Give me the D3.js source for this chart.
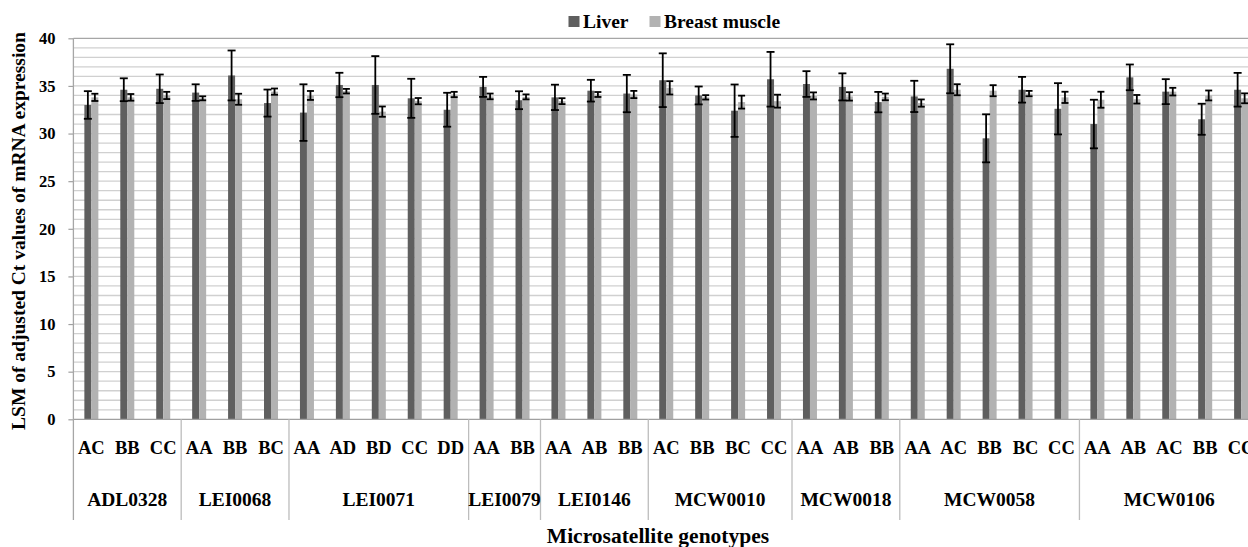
<!DOCTYPE html>
<html>
<head>
<meta charset="utf-8">
<script src="https://cdn.jsdelivr.net/npm/d3@7"></script>
<style>
  html, body { margin: 0; padding: 0; background: #fff; }
  svg { display: block; }
  text { font-family: "Liberation Serif", "Times New Roman", serif; font-weight: bold; fill: #000; }
</style>
</head>
<body>
<svg id="chart" width="1248" height="547"></svg>
<script>
// ---- data ----
const groups = ["ADL0328","LEI0068","LEI0071","LEI0079","LEI0146","MCW0010","MCW0018","MCW0058","MCW0106"];
const groupSizes = [3,3,5,2,3,4,3,5,5];
const genotypes = ["AC","BB","CC","AA","BB","BC","AA","AD","BD","CC","DD","AA","BB","AA","AB","BB",
                   "AC","BB","BC","CC","AA","AB","BB","AA","AC","BB","BC","CC","AA","AB","AC","BB","CC"];
const liver = [33.0,34.6,34.7,34.3,36.1,33.2,32.2,35.1,35.1,33.7,32.5,34.9,33.5,33.8,34.5,34.2,
               35.6,34.0,32.4,35.7,35.2,34.9,33.3,33.9,36.8,29.5,34.6,32.6,31.0,35.9,34.4,31.5,34.6];
const liverErr = [1.45,1.2,1.5,0.87,2.62,1.42,2.97,1.28,3.03,2.05,1.78,1.05,0.94,1.33,1.14,1.96,
                  2.82,0.94,2.75,2.87,1.35,1.42,1.07,1.64,2.57,2.52,1.35,2.69,2.55,1.35,1.31,1.63,1.77];
const breast = [33.8,33.8,34.0,33.7,33.6,34.4,34.0,34.45,32.3,33.4,34.1,33.9,33.85,33.4,34.1,34.1,
                34.8,33.8,33.3,33.4,33.95,33.9,33.85,33.2,34.6,34.5,34.2,33.8,33.55,33.6,34.4,34.0,33.7];
const breastErr = [0.38,0.35,0.38,0.21,0.58,0.33,0.47,0.24,0.54,0.33,0.28,0.3,0.26,0.31,0.26,0.38,
                   0.7,0.23,0.68,0.68,0.37,0.44,0.35,0.38,0.58,0.58,0.28,0.59,0.84,0.45,0.4,0.52,0.52];
const seriesNames = ["Liver","Breast muscle"];
const yTicks = [0,5,10,15,20,25,30,35,40];

// ---- layout ----
const svg = d3.select("#chart");
const plotLeft = 73.4, plotTop = 38.3, plotBottom = 419.3, catW = 35.93;
const n = genotypes.length;
const x = d3.scaleBand().domain(d3.range(n)).range([plotLeft, plotLeft + n * catW]).padding(0);
const y = d3.scaleLinear().domain([0, 40]).range([plotBottom, plotTop]);
const colors = ["#5f5f5f", "#b2b2b2"];
const barW = 7;

// gridlines (every 1 unit)
svg.append("g").selectAll("line").data(d3.range(1, 40)).join("line")
  .attr("x1", plotLeft).attr("x2", 1248)
  .attr("y1", d => y(d)).attr("y2", d => y(d))
  .attr("stroke", "#d0d0d0").attr("stroke-width", 1.3);
// top line
svg.append("line").attr("x1", plotLeft).attr("x2", 1248).attr("y1", y(40)).attr("y2", y(40))
  .attr("stroke", "#a6a6a6").attr("stroke-width", 1.3);

// y axis
const yAxis = d3.axisLeft(y).tickValues(yTicks).tickSize(5).tickPadding(13).tickFormat(d3.format("d"));
const ya = svg.append("g").attr("transform", `translate(${plotLeft},0)`).call(yAxis);
ya.select(".domain").remove();
ya.selectAll(".tick line").attr("stroke", "#a0a0a0").attr("stroke-width", 1.2);
ya.selectAll(".tick text").style("font-size", "16.5px").style("font-family", "'Liberation Serif', serif")
  .style("font-weight", "bold").attr("fill", "#000");

// bars
const gBars = svg.append("g");
gBars.selectAll("rect.liver").data(liver).join("rect").attr("class", "liver")
  .attr("x", (d, i) => x(i) + x.bandwidth() / 2 - barW)
  .attr("width", barW).attr("y", d => y(d)).attr("height", d => y(0) - y(d))
  .attr("fill", colors[0]);
gBars.selectAll("rect.breast").data(breast).join("rect").attr("class", "breast")
  .attr("x", (d, i) => x(i) + x.bandwidth() / 2)
  .attr("width", barW).attr("y", d => y(d)).attr("height", d => y(0) - y(d))
  .attr("fill", colors[1]);

// error bars
function errBars(vals, errs, offset, capW) {
  const g = svg.append("g").attr("stroke", "#000").attr("stroke-width", 1.8);
  vals.forEach((v, i) => {
    const cx = x(i) + x.bandwidth() / 2 + offset;
    const y1 = y(v + errs[i]), y2 = y(v - errs[i]);
    g.append("line").attr("x1", cx).attr("x2", cx).attr("y1", y1).attr("y2", y2);
    g.append("line").attr("x1", cx - capW / 2).attr("x2", cx + capW / 2).attr("y1", y1).attr("y2", y1);
    g.append("line").attr("x1", cx - capW / 2).attr("x2", cx + capW / 2).attr("y1", y2).attr("y2", y2);
  });
}
errBars(liver, liverErr, -barW / 2, 8);
errBars(breast, breastErr, barW / 2, 7);

// x axis line
svg.append("line").attr("x1", plotLeft).attr("x2", 1248).attr("y1", plotBottom).attr("y2", plotBottom)
  .attr("stroke", "#a0a0a0").attr("stroke-width", 1.3);
// vertical axis line + group separators
let starts = [0];
groupSizes.forEach((s, i) => starts.push(starts[i] + s));
svg.append("line").attr("x1", plotLeft).attr("x2", plotLeft).attr("y1", plotTop).attr("y2", 520)
  .attr("stroke", "#a6a6a6").attr("stroke-width", 1.3);
svg.append("g").selectAll("line").data(starts.slice(1, -1)).join("line")
  .attr("x1", d => x(d)).attr("x2", d => x(d)).attr("y1", plotBottom).attr("y2", 520)
  .attr("stroke", "#bdbdbd").attr("stroke-width", 1.3);

// genotype labels
svg.append("g").selectAll("text").data(genotypes).join("text")
  .attr("x", (d, i) => x(i) + x.bandwidth() / 2).attr("y", 454)
  .attr("text-anchor", "middle").style("font-size", "18.5px").text(d => d);

// group labels
svg.append("g").selectAll("text").data(groups).join("text")
  .attr("x", (d, i) => x(starts[i]) + groupSizes[i] * catW / 2).attr("y", 506)
  .attr("text-anchor", "middle").style("font-size", "19.5px").text(d => d);

// axis titles
svg.append("text").attr("x", 658).attr("y", 543).attr("text-anchor", "middle")
  .style("font-size", "21.5px").text("Microsatellite genotypes");
svg.append("text").attr("transform", "translate(25,231) rotate(-90)").attr("text-anchor", "middle")
  .style("font-size", "19.5px").text("LSM of adjusted Ct values of mRNA expression");

// legend
const leg = svg.append("g");
const legItems = [{x: 568.5, label: seriesNames[0], c: colors[0]}, {x: 649.5, label: seriesNames[1], c: colors[1]}];
legItems.forEach(it => {
  leg.append("rect").attr("x", it.x).attr("y", 16).attr("width", 11).attr("height", 11).attr("fill", it.c);
  leg.append("text").attr("x", it.x + 14.5).attr("y", 27.5).style("font-size", "19.5px").text(it.label);
});
</script>
</body>
</html>
